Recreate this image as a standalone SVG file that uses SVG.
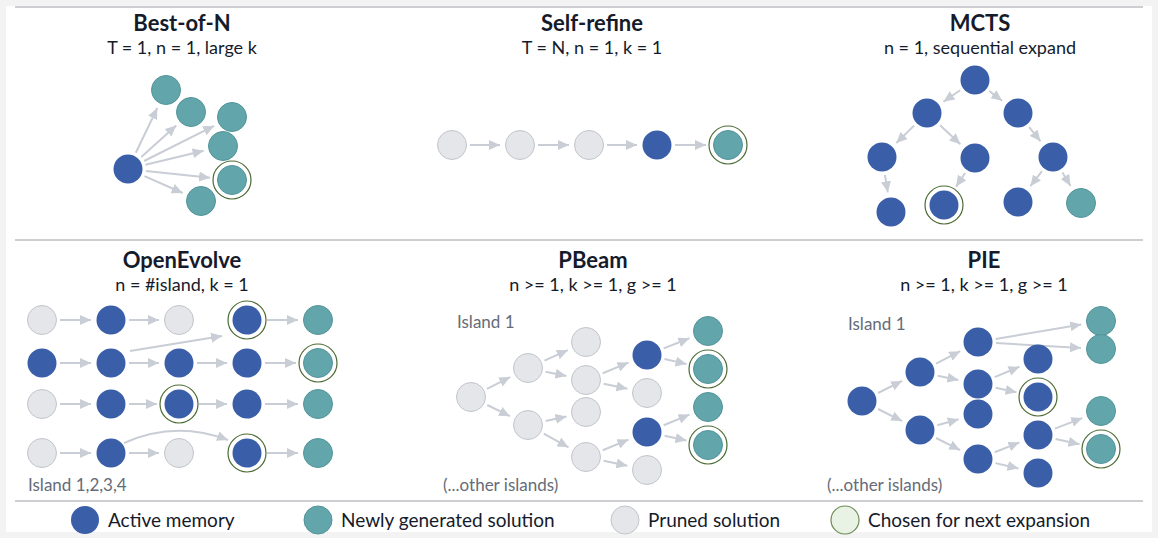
<svg xmlns="http://www.w3.org/2000/svg" width="1158" height="538" viewBox="0 0 1158 538">
<defs>
<marker id="ah" markerUnits="userSpaceOnUse" markerWidth="11" markerHeight="10" refX="11" refY="5" orient="auto"><path d="M0,0 L11,5 L0,10 z" fill="#c9cdd5"/></marker>
<style>
.t{font-family:Lato,"Liberation Sans",sans-serif;font-weight:bold;font-size:22px;fill:#151b2b;text-anchor:middle}
.s{font-family:Lato,"Liberation Sans",sans-serif;font-size:18px;fill:#151b2b;text-anchor:middle}
.l{font-family:Lato,"Liberation Sans",sans-serif;font-size:17px;fill:#656b78}
.g{font-family:Lato,"Liberation Sans",sans-serif;font-size:19px;fill:#151b2b}
.a{fill:#3a5ea8}
.n{fill:#62a6ac;stroke:#52949a;stroke-width:1}
.p{fill:#e4e6ea;stroke:#c2c5cb;stroke-width:1}
.c{fill:none;stroke:#4d6b35;stroke-width:1.2}
.e line,.e path{stroke:#c9cdd5;stroke-width:2;fill:none;marker-end:url(#ah)}
.rule{stroke:#9a9ea6;stroke-width:1}
</style>
</defs>
<rect x="0" y="0" width="1158" height="538" fill="#f3f3f3"/>
<rect x="6" y="6" width="1146" height="526" fill="#fff"/>
<line class="rule" x1="15" y1="7" x2="1143" y2="7"/>
<line class="rule" x1="15" y1="240" x2="1143" y2="240"/>
<line class="rule" x1="15" y1="501" x2="1143" y2="501"/>

<g id="titles">
<text class="t" x="182" y="31">Best-of-N</text><text class="s" x="182" y="54">T = 1, n = 1, large k</text>
<text class="t" x="592" y="31">Self-refine</text><text class="s" x="592" y="54">T = N, n = 1, k = 1</text>
<text class="t" x="980" y="31">MCTS</text><text class="s" x="980" y="54">n = 1, sequential expand</text>
<text class="t" x="182" y="268">OpenEvolve</text><text class="s" x="182" y="291">n = #island, k = 1</text>
<text class="t" x="593" y="268">PBeam</text><text class="s" x="593" y="291">n &gt;= 1, k &gt;= 1, g &gt;= 1</text>
<text class="t" x="984" y="268">PIE</text><text class="s" x="984" y="291">n &gt;= 1, k &gt;= 1, g &gt;= 1</text>
<text class="l" x="28" y="491">Island 1,2,3,4</text>
<text class="l" x="457" y="328">Island 1</text>
<text class="l" x="443" y="491">(...other islands)</text>
<text class="l" x="848" y="330">Island 1</text>
<text class="l" x="827" y="491">(...other islands)</text>
</g>

<g id="connectors" class="e">
<line x1="135.8" y1="152.8" x2="157.3" y2="108"/>
<line x1="141.3" y1="156.9" x2="176.2" y2="125.4"/>
<line x1="144.1" y1="161" x2="214.1" y2="125.9"/>
<line x1="145.5" y1="164.8" x2="203.6" y2="150.7"/>
<line x1="145.9" y1="170.9" x2="210.1" y2="177.7"/>
<line x1="144.5" y1="176.2" x2="182.7" y2="193"/>
<line x1="470" y1="145" x2="500" y2="145"/>
<line x1="538" y1="145" x2="569" y2="145"/>
<line x1="607" y1="145" x2="637" y2="145"/>
<line x1="675" y1="145" x2="706" y2="145"/>
<line x1="960.1" y1="90.2" x2="943.5" y2="101.7"/>
<line x1="989.3" y1="91" x2="1002.1" y2="100.8"/>
<line x1="914.1" y1="125.6" x2="896.3" y2="143"/>
<line x1="940.1" y1="125.3" x2="960.4" y2="144.3"/>
<line x1="1029.2" y1="127.1" x2="1040.5" y2="141.3"/>
<line x1="884.9" y1="174.8" x2="887.8" y2="192.3"/>
<line x1="965.1" y1="173" x2="956.1" y2="186.6"/>
<line x1="1042" y1="171.2" x2="1030.3" y2="186.2"/>
<line x1="1062.4" y1="172.4" x2="1070.6" y2="185.9"/>
<line x1="60" y1="320" x2="91" y2="320"/><line x1="129" y1="320" x2="159" y2="320"/><line x1="267" y1="320" x2="298" y2="320"/>
<line x1="60" y1="363" x2="91" y2="363"/><line x1="129" y1="363" x2="159" y2="363"/><line x1="197" y1="363" x2="227" y2="363"/><line x1="265" y1="363" x2="296" y2="363"/>
<line x1="60" y1="404" x2="91" y2="404"/><line x1="129" y1="404" x2="157" y2="404"/><line x1="199" y1="404" x2="227" y2="404"/><line x1="265" y1="404" x2="298" y2="404"/>
<line x1="60" y1="453" x2="91" y2="453"/><line x1="129" y1="453" x2="159" y2="453"/><line x1="267" y1="453" x2="298" y2="453"/>
<line x1="130" y1="351" x2="222" y2="336"/>
<path d="M124,443 Q175,420 228,440"/>
<line x1="487" y1="388.8" x2="510.2" y2="377.1"/>
<line x1="487.2" y1="405" x2="510" y2="416.2"/>
<line x1="544.4" y1="360.6" x2="567.8" y2="350.2"/>
<line x1="545.6" y1="371.7" x2="566.4" y2="375.9"/>
<line x1="545.6" y1="421.1" x2="566.5" y2="416.4"/>
<line x1="543.8" y1="433.7" x2="568.5" y2="447.3"/>
<line x1="602.7" y1="373.2" x2="628.5" y2="362.6"/>
<line x1="603.6" y1="383.7" x2="627.4" y2="388.8"/>
<line x1="602.7" y1="450.2" x2="628.5" y2="439.6"/>
<line x1="603.6" y1="460.7" x2="627.4" y2="465.8"/>
<line x1="663.7" y1="348.4" x2="689.4" y2="338.3"/>
<line x1="664.5" y1="359" x2="686.6" y2="364.1"/>
<line x1="663.7" y1="425.2" x2="689.5" y2="414.6"/>
<line x1="664.6" y1="435.7" x2="686.5" y2="440.4"/>
<line x1="878.1" y1="393" x2="902.1" y2="380.9"/>
<line x1="878.1" y1="409" x2="902.1" y2="421.1"/>
<line x1="936" y1="363.7" x2="960.2" y2="351.2"/>
<line x1="937.6" y1="375.7" x2="958.4" y2="379.9"/>
<line x1="937.3" y1="425.2" x2="958.7" y2="419.3"/>
<line x1="936.1" y1="438" x2="960.1" y2="450.1"/>
<line x1="995.7" y1="339" x2="1081.3" y2="324.4"/>
<line x1="996" y1="343" x2="1081" y2="347.9"/>
<line x1="994.6" y1="377.1" x2="1019.5" y2="366.7"/>
<line x1="995.6" y1="387.8" x2="1016.5" y2="392.3"/>
<line x1="994.7" y1="452.3" x2="1019.4" y2="442.4"/>
<line x1="995.5" y1="463.1" x2="1018.5" y2="468.5"/>
<line x1="1054.8" y1="428.6" x2="1082.3" y2="418.1"/>
<line x1="1055.6" y1="438.9" x2="1079.5" y2="444.2"/>
</g>

<g id="bestofn">
<circle class="a" cx="128" cy="169" r="14.5"/>
<circle class="n" cx="166" cy="90" r="14.5"/><circle class="n" cx="191" cy="112" r="14.5"/>
<circle class="n" cx="232" cy="117" r="14.5"/><circle class="n" cx="223" cy="146" r="14.5"/>
<circle class="n" cx="232" cy="180" r="14.5"/><circle class="c" cx="232" cy="180" r="19"/>
<circle class="n" cx="201" cy="201" r="14.5"/>
</g>
<g id="selfrefine">
<circle class="p" cx="452" cy="145" r="14.5"/><circle class="p" cx="520" cy="145" r="14.5"/>
<circle class="p" cx="589" cy="145" r="14.5"/><circle class="a" cx="657" cy="145" r="14.5"/>
<circle class="n" cx="728" cy="145" r="14.5"/><circle class="c" cx="728" cy="145" r="19"/>
</g>
<g id="mcts">
<circle class="a" cx="975" cy="80" r="14.5"/>
<circle class="a" cx="927" cy="113" r="14.5"/><circle class="a" cx="1018" cy="113" r="14.5"/>
<circle class="a" cx="882" cy="157" r="14.5"/><circle class="a" cx="975" cy="158" r="14.5"/><circle class="a" cx="1053" cy="157" r="14.5"/>
<circle class="a" cx="891" cy="212" r="14.5"/>
<circle class="a" cx="944" cy="205" r="14.5"/><circle class="c" cx="944" cy="205" r="19"/>
<circle class="a" cx="1018" cy="202" r="14.5"/><circle class="n" cx="1081" cy="203" r="14.5"/>
</g>
<g id="openevolve">
<circle class="p" cx="42" cy="320" r="14.5"/><circle class="a" cx="111" cy="320" r="14.5"/><circle class="p" cx="179" cy="320" r="14.5"/><circle class="a" cx="247" cy="320" r="14.5"/><circle class="c" cx="247" cy="320" r="19"/><circle class="n" cx="318" cy="320" r="14.5"/>
<circle class="a" cx="42" cy="363" r="14.5"/><circle class="a" cx="111" cy="363" r="14.5"/><circle class="a" cx="179" cy="363" r="14.5"/><circle class="a" cx="247" cy="363" r="14.5"/><circle class="n" cx="318" cy="363" r="14.5"/><circle class="c" cx="318" cy="363" r="19"/>
<circle class="p" cx="42" cy="404" r="14.5"/><circle class="a" cx="111" cy="404" r="14.5"/><circle class="a" cx="179" cy="404" r="14.5"/><circle class="c" cx="179" cy="404" r="19"/><circle class="a" cx="247" cy="404" r="14.5"/><circle class="n" cx="318" cy="404" r="14.5"/>
<circle class="p" cx="42" cy="453" r="14.5"/><circle class="a" cx="111" cy="453" r="14.5"/><circle class="p" cx="179" cy="453" r="14.5"/><circle class="a" cx="247" cy="453" r="14.5"/><circle class="c" cx="247" cy="453" r="19"/><circle class="n" cx="318" cy="453" r="14.5"/>
</g>
<g id="pbeam">
<circle class="p" cx="471" cy="397" r="14.5"/>
<circle class="p" cx="528" cy="368" r="14.5"/><circle class="p" cx="528" cy="425" r="14.5"/>
<circle class="p" cx="586" cy="342" r="14.5"/><circle class="p" cx="586" cy="380" r="14.5"/><circle class="p" cx="586" cy="412" r="14.5"/><circle class="p" cx="586" cy="457" r="14.5"/>
<circle class="a" cx="647" cy="355" r="14.5"/><circle class="p" cx="647" cy="393" r="14.5"/><circle class="a" cx="647" cy="432" r="14.5"/><circle class="p" cx="647" cy="470" r="14.5"/>
<circle class="n" cx="708" cy="331" r="14.5"/>
<circle class="n" cx="708" cy="369" r="14.5"/><circle class="c" cx="708" cy="369" r="19"/>
<circle class="n" cx="708" cy="407" r="14.5"/>
<circle class="n" cx="708" cy="445" r="14.5"/><circle class="c" cx="708" cy="445" r="19"/>
</g>
<g id="pie">
<circle class="a" cx="862" cy="401" r="14.5"/>
<circle class="a" cx="920" cy="372" r="14.5"/><circle class="a" cx="920" cy="430" r="14.5"/>
<circle class="a" cx="978" cy="342" r="14.5"/><circle class="a" cx="978" cy="384" r="14.5"/><circle class="a" cx="978" cy="414" r="14.5"/><circle class="a" cx="978" cy="459" r="14.5"/>
<circle class="a" cx="1038" cy="359" r="14.5"/>
<circle class="a" cx="1038" cy="397" r="14.5"/><circle class="c" cx="1038" cy="397" r="19"/>
<circle class="a" cx="1038" cy="435" r="14.5"/><circle class="a" cx="1038" cy="473" r="14.5"/>
<circle class="n" cx="1101" cy="321" r="14.5"/><circle class="n" cx="1101" cy="349" r="14.5"/>
<circle class="n" cx="1101" cy="411" r="14.5"/>
<circle class="n" cx="1101" cy="449" r="14.5"/><circle class="c" cx="1101" cy="449" r="19"/>
</g>
<g id="legend">
<circle class="a" cx="85" cy="520" r="14"/><text class="g" x="108" y="527">Active memory</text>
<circle class="n" cx="318" cy="520" r="14"/><text class="g" x="341" y="527">Newly generated solution</text>
<circle class="p" cx="625" cy="520" r="14"/><text class="g" x="648" y="527">Pruned solution</text>
<circle cx="845" cy="520" r="14" fill="#e9f3e5" stroke="#6d8a55" stroke-width="1.2"/><text class="g" x="868" y="527">Chosen for next expansion</text>
</g>
</svg>
